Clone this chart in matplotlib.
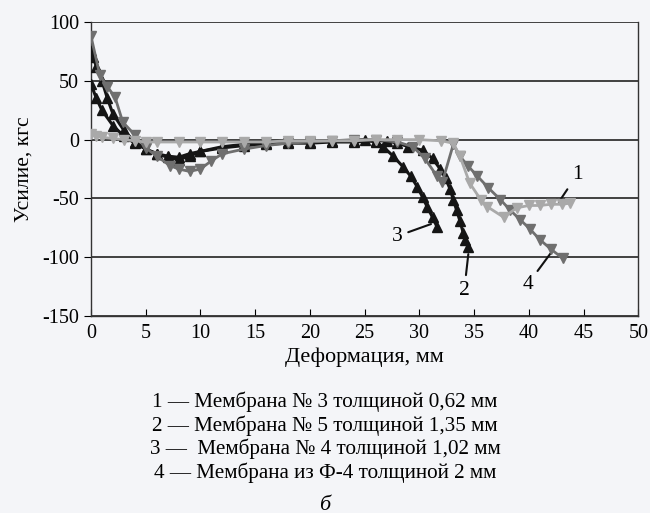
import numpy as np
import matplotlib
matplotlib.use("Agg")
import matplotlib.pyplot as plt

plt.rcParams['font.family'] = ['Liberation Serif', 'DejaVu Serif']
plt.rcParams['axes.unicode_minus'] = False

# 1 - membrane No 3, 0.62 mm (light grey)
x1 = [0, 0.5, 1, 2, 3, 4, 5, 6, 8, 10, 12, 14, 16, 18, 20, 22, 24, 26, 28, 30, 32, 33.1,
      33.7, 34.6, 35.6, 36.2, 37.7, 38.9, 40.0, 41.0, 42.0, 43.0, 43.8]
y1 = [5, 3, 2, 1, 0, -1, -2, -2, -2, -2, -2, -2, -2, -1, -1, -1, -1, 0, 0, 0, -1, -3,
      -14, -37, -51, -57, -66, -58, -56, -56, -55, -55, -54]

# 2 - membrane No 5, 1.35 mm (black)
x2 = [0, 0.5, 1, 2, 3, 4, 5, 6, 7, 8, 9, 10, 12, 14, 16, 18, 20, 22, 24, 26, 27, 28, 29,
      30.3, 31.2, 31.9, 32.4, 32.8, 33.1, 33.4, 33.7, 34.0, 34.2, 34.4]
y2 = [47, 35, 25, 12, 3, -3, -8, -12, -14, -15, -12, -10, -7, -5, -4, -3, -3, -2, -2, -1, -1, -3, -6,
      -9, -16, -25, -33, -42, -51, -60, -69, -79, -85, -91]

# 3 - membrane No 4, 1.02 mm (black)
x3 = [0, 0.2, 0.5, 1, 1.5, 2, 3, 4, 5, 6, 7, 8, 9, 10, 12, 14, 16, 18, 20, 22, 24, 25, 26,
      26.7, 27.6, 28.5, 29.2, 29.8, 30.3, 30.7, 31.2, 31.6]
y3 = [75, 70, 62, 50, 35, 22, 8, -2, -8, -12, -15, -17, -14, -10, -6, -4, -3, -2, -2, -1, -1, 0, -2,
      -6, -14, -23, -31, -40, -49, -57, -66, -74]

# 4 - membrane of F-4, 2 mm (dark grey)
x4 = [0, 0.8, 1.5, 2.2, 2.9, 4, 5, 6, 7.2, 8, 9, 10, 11, 12, 14, 16, 18, 20, 22, 24, 26, 28,
      29.4, 30.5, 31.6, 32.1, 33.1, 33.7, 34.4, 35.3, 36.3, 37.4, 38.3, 39.2, 40.1, 41.0, 42.0, 43.1]
y4 = [88, 55, 45, 36, 15, 4, -7, -14, -22, -25, -27, -25, -18, -12, -8, -5, -3, -2, -1, 0, 0, -2,
      -6, -16, -31, -36, -4, -14, -22, -31, -41, -51, -60, -68, -76, -85, -93, -101]

legend_lines = ["1 — Мембрана № 3 толщиной 0,62 мм",
                "2 — Мембрана № 5 толщиной 1,35 мм",
                "3 —  Мембрана № 4 толщиной 1,02 мм",
                "4 — Мембрана из Ф-4 толщиной 2 мм"]

fig = plt.figure(figsize=(6.5, 5.13), dpi=100)
fig.patch.set_facecolor('#f4f5f8')
ax = fig.add_axes([0.14, 0.384, 0.842, 0.573])
ax.set_facecolor('#f4f5f8')

ax.plot(x2, y2, color='#151515', lw=2.2, marker='^', ms=6.5, zorder=3)
ax.plot(x3, y3, color='#151515', lw=2.2, marker='^', ms=6.5, zorder=3)
ax.plot(x4, y4, color='#6f6f6f', lw=2, marker='v', ms=6.5, zorder=4)
ax.plot(x1, y1, color='#a9a9a9', lw=2, marker='v', ms=6.5, zorder=5)

ax.set_xlim(0, 50)
ax.set_ylim(-150, 100)
ax.set_xticks(np.arange(0, 51, 5))
ax.set_yticks(np.arange(-150, 101, 50))
ax.yaxis.grid(True, color='#222222', lw=1.2)
ax.set_axisbelow(True)
for s in ax.spines.values():
    s.set_color('#333333')
    s.set_linewidth(1.0)
ax.spines['top'].set_visible(False)
ax.tick_params(axis='x', direction='in', length=5, labelsize=14.5, pad=6)
ax.tick_params(axis='y', direction='out', length=5, labelsize=14.5)
ax.set_xlabel("Деформация, мм", fontsize=16, labelpad=3)
ax.set_ylabel("Усилие, кгс", fontsize=15.5, labelpad=6)

kw = dict(fontsize=15.5, ha='center', va='center',
          arrowprops=dict(arrowstyle='-', color='#111111', lw=1.5))
ax.annotate("1", xy=(42.6, -55), xytext=(44.4, -30), **kw)
ax.annotate("2", xy=(34.5, -95), xytext=(34.1, -128), **kw)
ax.annotate("3", xy=(31.3, -71), xytext=(28.0, -82), **kw)
ax.annotate("4", xy=(42.2, -94), xytext=(39.9, -123), **kw)

for i, t in enumerate(legend_lines):
    fig.text(0.5, 1 - (402 + i * 23.5) / 513, t, ha='center', va='center', fontsize=15.2)
fig.text(0.5, 1 - 505 / 513, "б", ha='center', va='center', fontsize=16, style='italic')

fig.savefig("out.png", dpi=100, facecolor=fig.get_facecolor())
